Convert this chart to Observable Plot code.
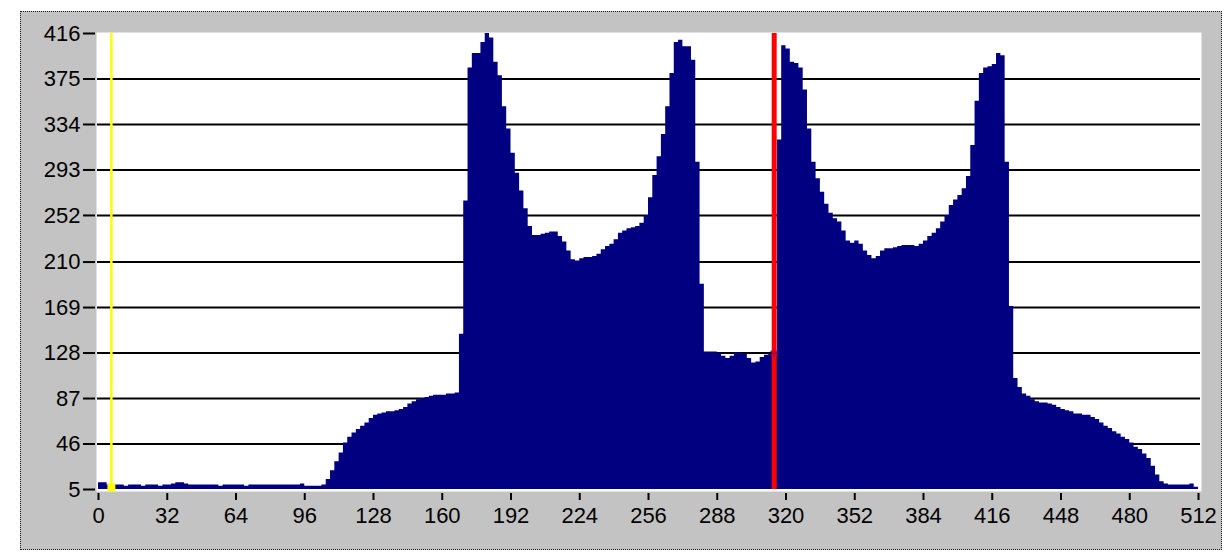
<!DOCTYPE html>
<html><head><meta charset="utf-8">
<script src="https://cdn.jsdelivr.net/npm/d3@7"></script>
<script src="https://cdn.jsdelivr.net/npm/@observablehq/plot@0.6"></script>
<style>
html,body{margin:0;padding:0;background:#fff;}
#wrap{position:relative;width:1232px;height:552px;overflow:hidden;background:#fff;}
#panel{position:absolute;left:20px;top:11px;width:1202px;height:539px;box-sizing:border-box;background:#c3c3c3;border:1px dotted #202020;}
#chart{position:absolute;left:0;top:0;}
</style></head><body>
<div id="wrap"><div id="panel"></div><div id="chart"></div></div>
<script>
// Histogram: 512 levels, read in groups of 2 levels
const binWidth = 2;
const counts = [
  11,11,9,9,9,9,8,9,9,9,8,9,9,9,8,9,9,10,11,11,10,9,9,9,9,9,9,9,8,9,9,9,
  9,9,8,9,9,9,9,9,9,9,9,9,9,9,9,10,8,8,8,8,9,14,22,30,38,47,52,56,59,62,65,69,
  72,73,74,75,75,76,77,79,82,84,86,87,88,89,90,90,90,91,91,92,145,265,385,398,398,408,416,412,390,378,350,330,
  308,290,274,258,242,234,234,235,236,237,237,233,228,220,212,211,213,214,214,215,217,221,224,226,230,236,238,240,241,242,245,252,
  268,288,305,325,350,380,408,410,404,404,392,300,190,129,129,129,128,125,123,125,128,128,127,123,119,120,124,126,127,128,320,405,
  402,390,389,385,365,330,300,285,273,262,254,249,246,238,229,227,229,226,220,216,213,215,220,222,222,223,224,225,225,225,224,226,
  229,233,236,240,246,252,261,266,270,276,287,315,355,380,385,386,388,398,396,300,170,105,97,91,89,86,84,83,83,82,81,79,
  77,76,75,73,73,72,72,70,68,65,62,60,57,55,52,50,47,43,41,37,33,26,18,12,10,9,9,9,9,9,10,7
];
const xTicks = [0,32,64,96,128,160,192,224,256,288,320,352,384,416,448,480,512];
const yTicks = [5,46,87,128,169,210,252,293,334,375,416];
const yellowCursor = [6];
const redCursor = [314.5];

const histo = counts.map((v, i) => ({x: i * binWidth, v}));
histo.push({x: counts.length * binWidth, v: counts[counts.length - 1]});
const grid = yTicks.slice(1, -1);
const valueAt = (c) => counts[Math.floor(c / binWidth)];

const chart = Plot.plot({
  width: 1232, height: 552,
  marginLeft: 98, marginRight: 34, marginTop: 33, marginBottom: 63,
  style: {background: "transparent", fontFamily: "'Liberation Sans', Arial, sans-serif", fontSize: "22px", color: "#000", overflow: "visible"},
  x: {domain: [0, 512], label: null},
  y: {domain: [5, 416], label: null},
  marks: [
    Plot.frame({fill: "#fff", stroke: null, insetLeft: -2, insetRight: -3, insetTop: -1, insetBottom: -2}),
    Plot.ruleY(grid, {stroke: "#000", strokeWidth: 2, insetLeft: -1, insetRight: -2}),
    Plot.areaY(histo, {x: "x", y: "v", curve: "step-after", fill: "#000080", clip: true}),
    Plot.ruleX(yellowCursor, {stroke: "#ffff00", strokeWidth: 2.5}),
    Plot.ruleX(redCursor, {stroke: "#ff0000", strokeWidth: 5}),
    Plot.dot(yellowCursor, {x: d => d, y: d => valueAt(d) - 2, symbol: "square", fill: "#ffff00", r: 4.5}),
    Plot.dot(redCursor, {x: d => d, y: d => valueAt(d), symbol: "asterisk", stroke: "#b00040", r: 4, strokeWidth: 1.5}),
    Plot.axisY(yTicks, {tickSize: 12, tickPadding: 3, dx: -3, strokeWidth: 2, label: null}),
    Plot.axisX(xTicks, {tickSize: 7, tickPadding: 7, dy: 4, strokeWidth: 2, label: null})
  ]
});
document.getElementById("chart").appendChild(chart);
</script>
</body></html>
